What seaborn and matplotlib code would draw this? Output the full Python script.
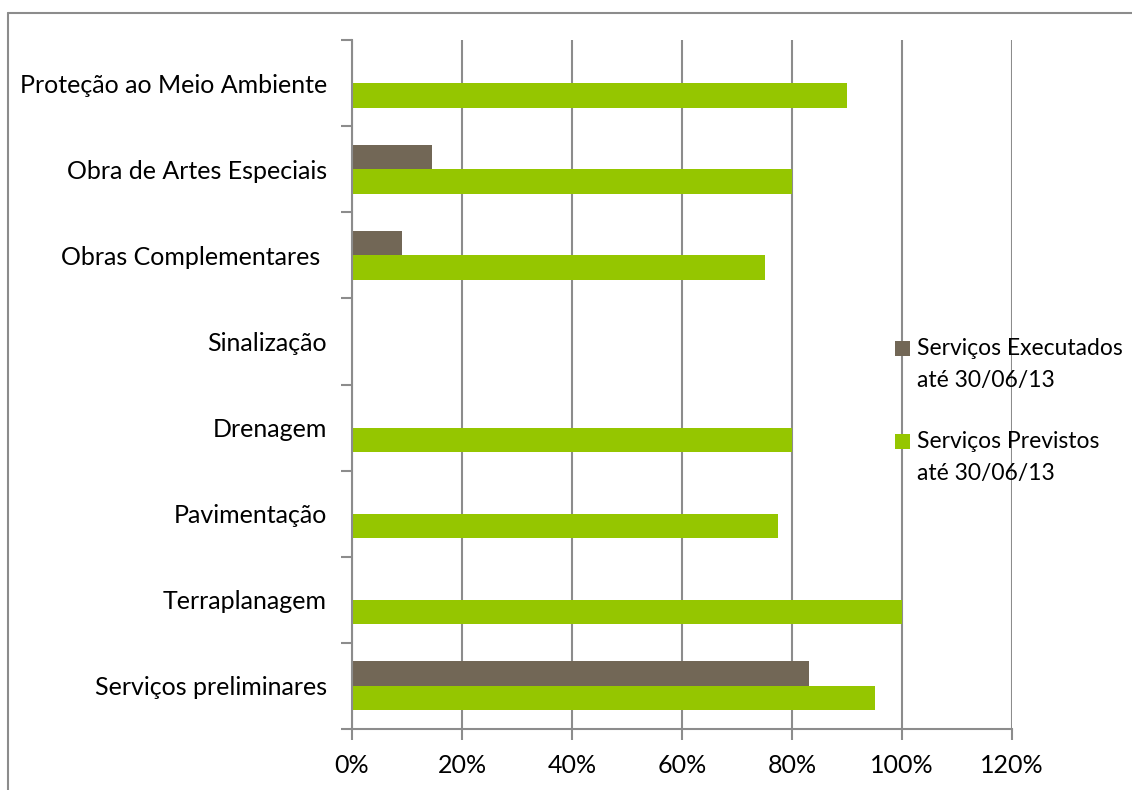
import pandas as pd
import numpy as np
import matplotlib
matplotlib.use('Agg')
import matplotlib.pyplot as plt
from matplotlib.lines import Line2D
from matplotlib.ticker import FixedLocator, PercentFormatter
import seaborn as sns

# Data (top to bottom as shown)
categories = ['Proteção ao Meio Ambiente', 'Obra de Artes Especiais', 'Obras Complementares ',
              'Sinalização', 'Drenagem', 'Pavimentação', 'Terraplanagem', 'Serviços preliminares']
executados = [0, 14.5, 9, 0, 0, 0, 0, 83]
previstos = [90, 80, 75, 0, 80, 77.5, 100, 95]
series_names = ['Serviços Executados até 30/06/13', 'Serviços Previstos até 30/06/13']
legend_labels = ['Serviços Executados\naté 30/06/13', 'Serviços Previstos\naté 30/06/13']
x_ticks = [0, 20, 40, 60, 80, 100, 120]

df = pd.DataFrame({
    'categoria': categories * 2,
    'valor': executados + previstos,
    'serie': [series_names[0]] * len(categories) + [series_names[1]] * len(categories),
})

sns.set_style('white')
plt.rcParams['font.family'] = ['Lato', 'DejaVu Sans']
plt.rcParams['text.color'] = 'black'
plt.rcParams['xtick.color'] = 'black'
plt.rcParams['ytick.color'] = 'black'

fig = plt.figure(figsize=(11.32, 7.9), dpi=100)
ax = fig.add_axes([352 / 1132, 1 - 729 / 790, (1012 - 352) / 1132, (729 - 40) / 790])

sns.barplot(data=df, y='categoria', x='valor', hue='serie', order=categories,
            hue_order=series_names, palette=['#726756', '#95C600'],
            width=0.57, linewidth=0, saturation=1, ax=ax)

grid_color = '#8c8c8c'
ax.set_xlim(0, 120)
ax.set_ylim(len(categories) - 0.5, -0.5)
ax.xaxis.set_major_locator(FixedLocator(x_ticks))
ax.xaxis.set_major_formatter(PercentFormatter(decimals=0))
ax.grid(axis='x', color=grid_color, linewidth=1.5)
ax.set_axisbelow(True)
ax.set_xlabel('')
ax.set_ylabel('')

for side in ['top', 'right']:
    ax.spines[side].set_visible(False)
for side in ['left', 'bottom']:
    ax.spines[side].set_color(grid_color)
    ax.spines[side].set_linewidth(1.5)

# category labels in band centers, ticks at band borders
ax.yaxis.set_minor_locator(FixedLocator(np.arange(-0.5, len(categories), 1)))
ax.tick_params(axis='y', which='major', length=0, pad=18, labelsize=18, labelcolor='black')
ax.tick_params(axis='y', which='minor', left=True, length=8, width=1.5, color=grid_color)
ax.tick_params(axis='x', which='major', bottom=True, length=8, width=1.5, color=grid_color,
               labelsize=18, pad=10, labelcolor='black')

# legend at the right edge like the original
handles, _ = ax.get_legend_handles_labels()
leg = ax.legend(handles, legend_labels, loc='upper left', bbox_to_anchor=(895 / 1132, 1 - 338 / 790),
                bbox_transform=fig.transFigure, frameon=False, fontsize=16.5,
                handlelength=0.65, handleheight=0.65, handletextpad=0.3, labelspacing=1.75,
                borderaxespad=0, borderpad=0)
for t in leg.get_texts():
    t.set_linespacing(1.65)
    t.set_color('black')
# marker next to the first line of each label, as in the original
for p in leg.legend_handles:
    p.set_y(p.get_y() + 12)

# chart border
fig.add_artist(Line2D([8 / 1132, 1], [1 - 13 / 790, 1 - 13 / 790], color='#8c8c8c', linewidth=1.5))
fig.add_artist(Line2D([8 / 1132, 8 / 1132], [0, 1 - 13 / 790], color='#8c8c8c', linewidth=1.5))

fig.savefig('out.png', dpi=100)
